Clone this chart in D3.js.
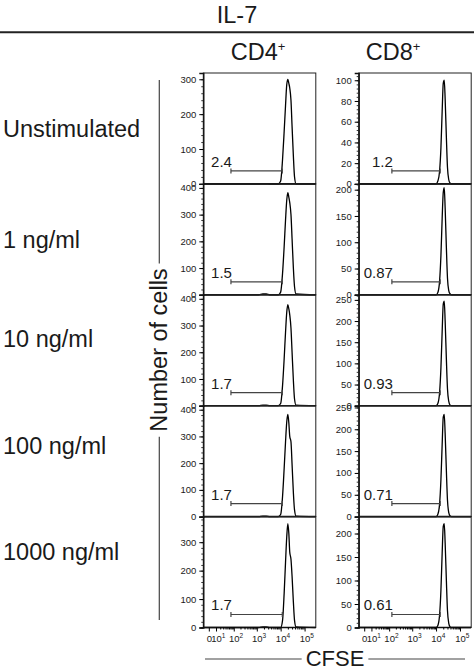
<!DOCTYPE html>
<html>
<head>
<meta charset="utf-8">
<script src="https://cdn.jsdelivr.net/npm/d3@7"></script>
<style>
  body { margin: 0; background: #fff; }
  text { font-family: "Liberation Sans", Arial, sans-serif; fill: #1a1a1a; }
</style>
</head>
<body>
<svg width="474" height="668"></svg>
<script>
// row / column labels
const doses = ["Unstimulated", "1 ng/ml", "10 ng/ml", "100 ng/ml", "1000 ng/ml"];
const cellTypes = ["CD4", "CD8"];

// CFSE bin centres used for every histogram
const cfseBins = [-7, 1200, 1800, 2500, 3500, 8000, 10000, 12000, 14000, 16000,
                  18000, 20000, 22000, 24000, 27000, 30000, 34000, 38000, 44000, 290000];

// counts per bin, one array per dose
const cd4Counts = [
  [0, 0, 1, 1, 0, 0, 8, 70, 150, 225, 285, 300, 288, 275, 240, 165, 80, 20, 0, 0],
  [0, 0, 3, 3, 0, 0, 10, 80, 180, 280, 355, 382, 365, 345, 300, 210, 100, 30, 3, 0],
  [0, 0, 2, 2, 0, 0, 8, 75, 175, 275, 350, 378, 362, 340, 290, 200, 95, 25, 2, 0],
  [0, 0, 2, 2, 0, 0, 8, 75, 180, 280, 355, 382, 350, 300, 280, 195, 90, 25, 2, 0],
  [0, 0, 2, 2, 0, 0, 0, 25, 120, 230, 320, 365, 330, 265, 240, 180, 90, 25, 2, 0]
];
const cd8Counts = [
  [0, 0, 0, 0, 0, 0, 0, 3, 12, 35, 70, 97, 100, 82, 45, 16, 4, 1, 0, 0],
  [0, 0, 0, 0, 0, 0, 0, 5, 25, 75, 145, 195, 204, 165, 90, 32, 8, 2, 0, 0],
  [0, 0, 0, 0, 0, 0, 0, 6, 30, 90, 175, 240, 247, 200, 110, 40, 10, 2, 0, 0],
  [0, 0, 0, 0, 0, 0, 0, 6, 28, 85, 165, 228, 234, 190, 105, 38, 9, 2, 0, 0],
  [0, 0, 0, 0, 0, 0, 0, 5, 26, 80, 158, 215, 221, 180, 100, 36, 9, 2, 0, 0]
];

// y axis extents and tick steps
const cd4YMax = [318, 415, 415, 415, 390];
const cd4YStep = [100, 100, 100, 100, 100];
const cd8YMax = [107, 211, 262, 254, 236];
const cd8YStep = [20, 50, 50, 50, 50];

// gated percentages and gate limits
const cd4Gated = ["2.4", "1.5", "1.7", "1.7", "1.7"];
const cd8Gated = ["1.2", "0.87", "0.93", "0.71", "0.61"];
const cd4Gate = [74, 11700];
const cd8Gate = [133, 14900];

// x axis ticks
const xTicks = [0, 10, 100, 1000, 10000, 100000];
const xTickExp = ["", "1", "2", "3", "4", "5"];

const svg = d3.select("svg");
const panelW = 112.5, panelH = 110.9, top0 = 73;
const colX = [203.3, 358.7];
const bigFont = "23.5px";

const x = d3.scaleSymlog().constant(10).domain([-7, 294000]).range([0, panelW]);

// minor ticks on the cfse axis
const xMinor = [];
[10, 100, 1000, 10000].forEach(function(d) {
  for (let m = 2; m <= 9; m++) xMinor.push(d * m);
});

const columns = [
  { counts: cd4Counts, yMax: cd4YMax, step: cd4YStep, gated: cd4Gated, gate: cd4Gate },
  { counts: cd8Counts, yMax: cd8YMax, step: cd8YStep, gated: cd8Gated, gate: cd8Gate }
];

columns.forEach(function(col, c) {
  doses.forEach(function(dose, r) {
    const g = svg.append("g")
      .attr("transform", "translate(" + colX[c] + "," + (top0 + r * panelH) + ")");

    const y = d3.scaleLinear().domain([0, col.yMax[r]]).range([panelH, 0]);
    const step = col.step[r];

    // frame
    g.append("rect")
      .attr("width", panelW).attr("height", panelH)
      .attr("fill", "none").attr("stroke", "#222").attr("stroke-width", 1);

    // histogram
    const pts = cfseBins.map(function(b, i) { return [b, col.counts[r][i]]; });
    g.append("path")
      .datum(pts)
      .attr("fill", "none")
      .attr("stroke", "#000")
      .attr("stroke-width", 1.3)
      .attr("d", d3.line()
        .x(function(d) { return x(d[0]); })
        .y(function(d) { return y(d[1]); })
        .curve(d3.curveMonotoneX));

    // gate bracket
    const gy = panelH - 13;
    const gx0 = x(col.gate[0]), gx1 = x(col.gate[1]);
    const gate = g.append("g").attr("stroke", "#444").attr("stroke-width", 1.2);
    gate.append("line").attr("x1", gx0).attr("x2", gx1).attr("y1", gy).attr("y2", gy);
    gate.append("line").attr("x1", gx0).attr("x2", gx0).attr("y1", gy - 2.5).attr("y2", gy + 2.5);
    gate.append("line").attr("x1", gx1).attr("x2", gx1).attr("y1", gy - 2.5).attr("y2", gy + 2.5);
    g.append("text")
      .attr("x", gx0 + 1).attr("y", gy - 4)
      .attr("text-anchor", "end")
      .style("font-size", "15px")
      .text(col.gated[r]);

    // y axis, minor then major
    g.append("g")
      .call(d3.axisLeft(y)
        .tickValues(d3.range(0, col.yMax[r] + 0.01, step / 5))
        .tickSize(2).tickFormat(""))
      .call(function(a) { a.select(".domain").remove(); })
      .selectAll("line").attr("stroke", "#333");
    const ya = g.append("g")
      .call(d3.axisLeft(y)
        .tickValues(d3.range(0, col.yMax[r] + 0.01, step))
        .tickSize(4).tickPadding(3));
    ya.select(".domain").attr("stroke", "#111").attr("stroke-width", 1.4);
    ya.selectAll("text").style("font-size", "9.5px").attr("fill", "#222");

    // x axis line
    g.append("line")
      .attr("x1", 0).attr("x2", panelW)
      .attr("y1", panelH).attr("y2", panelH)
      .attr("stroke", "#111").attr("stroke-width", 1.6);

    if (r === doses.length - 1) {
      const xa = g.append("g")
        .attr("transform", "translate(0," + panelH + ")")
        .call(d3.axisBottom(x).tickValues(xTicks).tickSize(4).tickPadding(2).tickFormat(""));
      xa.select(".domain").remove();
      g.append("g")
        .attr("transform", "translate(0," + panelH + ")")
        .call(d3.axisBottom(x).tickValues(xMinor).tickSize(2).tickFormat(""))
        .select(".domain").remove();
      xa.selectAll(".tick").each(function(d, i) {
        const t = d3.select(this).append("text")
          .attr("y", 14)
          .attr("text-anchor", xTickExp[i] ? "start" : "middle")
          .attr("x", xTickExp[i] ? -5.3 : 0)
          .style("font-size", "9.5px")
          .attr("fill", "#222");
        t.append("tspan").text(d === 0 ? "0" : "10");
        if (xTickExp[i]) {
          t.append("tspan").attr("dy", -4).style("font-size", "6.5px").text(xTickExp[i]);
        }
      });
    }
  });
});

// column headers
const headX = [258, 393];
cellTypes.forEach(function(name, c) {
  const t = svg.append("text")
    .attr("x", headX[c]).attr("y", 60)
    .attr("text-anchor", "middle")
    .style("font-size", bigFont);
  t.append("tspan").text(name);
  t.append("tspan").attr("dy", -9).style("font-size", "13px").text("+");
});

svg.append("text")
  .attr("x", 237).attr("y", 23)
  .attr("text-anchor", "middle")
  .style("font-size", bigFont)
  .text("IL-7");
svg.append("line")
  .attr("x1", 0).attr("x2", 474).attr("y1", 32.3).attr("y2", 32.3)
  .attr("stroke", "#222").attr("stroke-width", 2);

// row labels
const rowBase = [137, 248, 347, 454, 560];
doses.forEach(function(d, r) {
  svg.append("text")
    .attr("x", 3).attr("y", rowBase[r])
    .style("font-size", bigFont)
    .text(d);
});

// y title with side rules
const yMid = 350, yLineX = 159.3;
const ytitle = svg.append("text")
  .attr("transform", "translate(167," + yMid + ") rotate(-90)")
  .attr("text-anchor", "middle")
  .style("font-size", bigFont)
  .text("Number of cells");
const yLen = ytitle.node().getComputedTextLength();
svg.append("line")
  .attr("x1", yLineX).attr("x2", yLineX)
  .attr("y1", 80).attr("y2", yMid - yLen / 2 - 5)
  .attr("stroke", "#444").attr("stroke-width", 1.2);
svg.append("line")
  .attr("x1", yLineX).attr("x2", yLineX)
  .attr("y1", yMid + yLen / 2 + 5).attr("y2", 620)
  .attr("stroke", "#444").attr("stroke-width", 1.2);

// x title with side rules
const xMid = 335, xLineY = 659;
const xtitle = svg.append("text")
  .attr("x", xMid).attr("y", 666)
  .attr("text-anchor", "middle")
  .style("font-size", "22px")
  .text("CFSE");
const xLen = xtitle.node().getComputedTextLength();
svg.append("line")
  .attr("x1", 205).attr("x2", xMid - xLen / 2 - 4)
  .attr("y1", xLineY).attr("y2", xLineY)
  .attr("stroke", "#444").attr("stroke-width", 1.2);
svg.append("line")
  .attr("x1", xMid + xLen / 2 + 4).attr("x2", 465)
  .attr("y1", xLineY).attr("y2", xLineY)
  .attr("stroke", "#444").attr("stroke-width", 1.2);
</script>
</body>
</html>
